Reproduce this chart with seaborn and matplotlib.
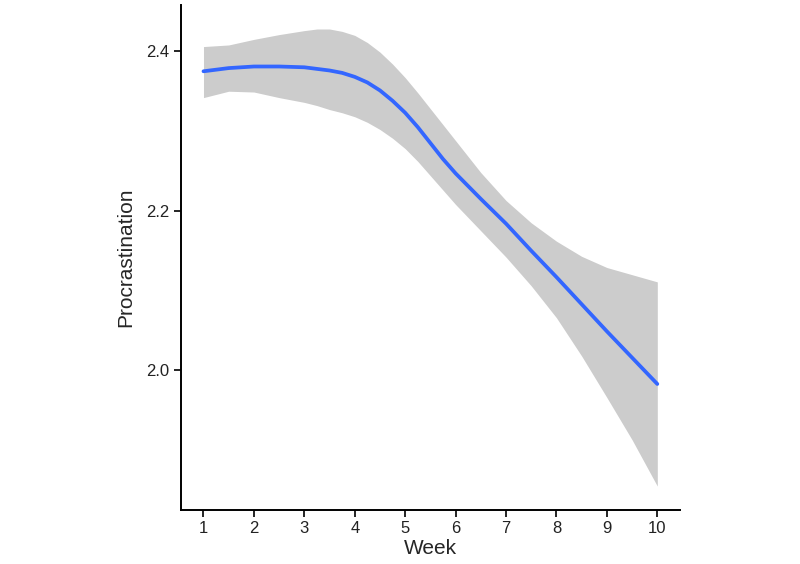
import matplotlib
matplotlib.use("Agg")
import matplotlib.pyplot as plt
import seaborn as sns
import pandas as pd

# values (loess fit + 95% band)
week = [1, 1.5, 2, 2.5, 3, 3.25, 3.5, 3.75, 4, 4.25, 4.5, 4.75, 5, 5.25, 5.5,
        5.75, 6, 6.5, 7, 7.5, 8, 8.5, 9, 9.5, 10]
fit = [2.375, 2.379, 2.381, 2.381, 2.380, 2.378, 2.376, 2.373, 2.368, 2.361,
       2.351, 2.338, 2.323, 2.305, 2.285, 2.265, 2.247, 2.215, 2.184, 2.150,
       2.117, 2.083, 2.049, 2.016, 1.983]
upper = [2.406, 2.408, 2.415, 2.421, 2.426, 2.428, 2.428, 2.425, 2.420, 2.411,
         2.399, 2.384, 2.367, 2.348, 2.328, 2.308, 2.288, 2.248, 2.213, 2.185,
         2.162, 2.143, 2.129, 2.120, 2.111]
lower = [2.342, 2.350, 2.349, 2.342, 2.336, 2.332, 2.327, 2.323, 2.318, 2.311,
         2.302, 2.291, 2.278, 2.262, 2.244, 2.226, 2.208, 2.175, 2.142, 2.106,
         2.066, 2.018, 1.966, 1.913, 1.855]
week_ticks = list(range(1, 11))
y_ticks = [2.0, 2.2, 2.4]

df = pd.DataFrame({"Week": week, "Procrastination": fit, "upper": upper, "lower": lower})

sns.set_style("white")
plt.rcParams['font.family'] = ['Liberation Sans', 'DejaVu Sans']

fig, ax = plt.subplots(figsize=(8, 5.64), dpi=100)
fig.subplots_adjust(left=0.226, right=0.85, bottom=0.0957, top=0.991)

ax.fill_between(df["Week"], df["lower"], df["upper"], color="#cccccc", linewidth=0)
sns.lineplot(df, x="Week", y="Procrastination", color="#3366ff", linewidth=2.7, ax=ax)

ax.set_xlim(0.55, 10.45)
ax.set_ylim(1.825, 2.458)
ax.set_xticks(week_ticks)
ax.set_yticks(y_ticks)
ax.set_yticklabels([f"{v:.1f}" for v in y_ticks])

sns.despine(ax=ax)
for s in ["left", "bottom"]:
    ax.spines[s].set_linewidth(1.4)
    ax.spines[s].set_color("black")
ax.tick_params(axis="both", length=5, width=1.2, color="black",
               labelsize=12, labelcolor="#222222", pad=3, left=True, bottom=True)
ax.set_xlabel("Week", fontsize=15, labelpad=2)
ax.set_ylabel("Procrastination", fontsize=15, labelpad=8)

fig.savefig("out.png", dpi=100)
